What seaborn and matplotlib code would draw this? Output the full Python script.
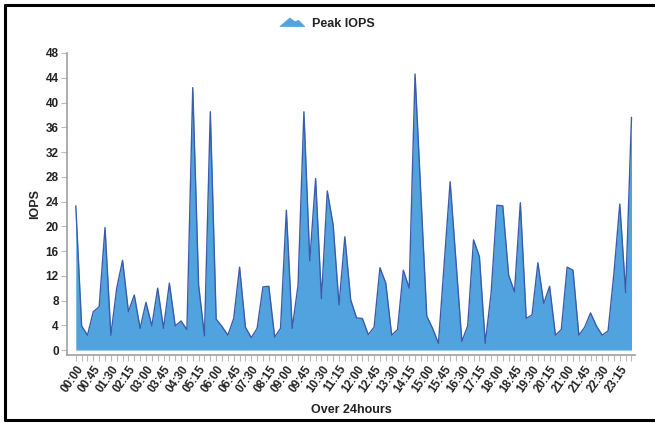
import matplotlib
matplotlib.use("Agg")
import matplotlib.pyplot as plt
import seaborn as sns
import pandas as pd
import numpy as np
from matplotlib.patches import Polygon
from matplotlib.legend_handler import HandlerPatch
from matplotlib.lines import Line2D

# ---- data ----
times = [f"{h:02d}:{m:02d}" for h in range(24) for m in (0, 15, 30, 45)]
peak_iops = [
    23.3, 3.9, 2.4, 6.2, 7.0, 19.8, 2.4, 10.0, 14.5, 6.2, 8.9, 3.5,
    7.7, 3.9, 10.0, 3.5, 10.8, 3.9, 4.7, 3.3, 42.4, 10.5, 2.3, 38.5,
    5.0, 3.8, 2.4, 5.1, 13.4, 3.7, 2.0, 3.5, 10.2, 10.3, 2.1, 3.5,
    22.6, 3.5, 10.5, 38.5, 14.4, 27.7, 8.3, 25.7, 20.2, 7.3, 18.3, 8.1,
    5.2, 5.1, 2.5, 3.7, 13.3, 10.8, 2.4, 3.3, 12.9, 10.0, 44.6, 25.0,
    5.5, 3.5, 1.1, 14.2, 27.2, 14.3, 1.4, 3.9, 17.8, 15.1, 1.1, 9.2,
    23.4, 23.3, 12.1, 9.4, 23.8, 5.1, 5.7, 14.1, 7.5, 10.3, 2.4, 3.3,
    13.4, 12.9, 2.4, 3.7, 6.0, 3.9, 2.4, 3.1, 12.4, 23.6, 9.3, 37.6,
]
y_ticks = list(range(0, 49, 4))
series_name = "Peak IOPS"

df = pd.DataFrame({"idx": np.arange(len(times)), "time": times, "iops": peak_iops})

FILL = "#50A3DE"
LINE = "#3A5CAB"
TXT = "#222222"

sns.set_style("white")
plt.rcParams["font.family"] = ["Liberation Sans", "DejaVu Sans"]

fig = plt.figure(figsize=(6.55, 4.23), dpi=100)
ax = fig.add_axes([67 / 655, 1 - 355 / 423, (635 - 67) / 655, (355 - 53) / 423])

ax.fill_between(df["idx"], 0, df["iops"], color=FILL, linewidth=0, zorder=1)
sns.lineplot(data=df, x="idx", y="iops", ax=ax, color=LINE, linewidth=1.0, zorder=2)

ax.set_xlim(-1.5, 95.6)
ax.set_ylim(-0.8, 48)

ax.set_yticks(y_ticks)
ax.set_yticklabels([str(v) for v in y_ticks], fontsize=8.5, fontweight="bold", color=TXT)
major = list(range(0, len(times), 3))
ax.set_xticks(major)
ax.set_xticklabels([times[i] for i in major], rotation=55, ha="right",
                   rotation_mode="anchor", fontsize=8.3, fontweight="bold", color=TXT)
ax.set_xticks(range(len(times)), minor=True)
ax.tick_params(axis="x", which="both", length=4, width=0.8, color="#bbbbbb",
               direction="out", pad=2, bottom=True)
ax.tick_params(axis="y", length=4, width=0.8, color="#bbbbbb", direction="out", pad=2, left=True)

for s in ["top", "right"]:
    ax.spines[s].set_visible(False)
for s in ["left", "bottom"]:
    ax.spines[s].set_color("#a0a0a0")
    ax.spines[s].set_linewidth(1.2)
ax.grid(False)

ax.set_ylabel("IOPS", fontsize=9, fontweight="bold", color=TXT, labelpad=3)
ax.set_xlabel("Over 24hours", fontsize=9, fontweight="bold", color=TXT, labelpad=7)


class MountainHandler(HandlerPatch):
    def create_artists(self, legend, orig_handle, xdescent, ydescent,
                       width, height, fontsize, trans):
        w, h = width, height
        pts = [(0, 0.05 * h), (0.4 * w, 0.95 * h), (0.6 * w, 0.55 * h),
               (0.75 * w, 0.7 * h), (w, 0.05 * h)]
        p = Polygon(pts, closed=True, facecolor=FILL, edgecolor=FILL,
                    linewidth=0.5, transform=trans)
        return [p]


handle = Polygon([[0, 0], [1, 1], [2, 0]], facecolor=FILL)
leg = fig.legend([handle], [series_name], handler_map={Polygon: MountainHandler()},
                 loc="center", bbox_to_anchor=(0.5, 1 - 24 / 423), frameon=False,
                 prop={"size": 9, "weight": "bold"}, handlelength=2.0, handleheight=0.8,
                 handletextpad=0.6)
for t in leg.get_texts():
    t.set_color(TXT)

# outer frame (top, left, bottom)
fig.add_artist(Line2D([5 / 655, 1.0], [1 - 5 / 423, 1 - 5 / 423], color="black", linewidth=2.2,
                      transform=fig.transFigure))
fig.add_artist(Line2D([5 / 655, 5 / 655], [1 - 5 / 423, 1 - 420 / 423], color="black", linewidth=2.2,
                      transform=fig.transFigure))
fig.add_artist(Line2D([5 / 655, 1.0], [1 - 420 / 423, 1 - 420 / 423], color="black", linewidth=2.2,
                      transform=fig.transFigure))

fig.savefig("out.png", dpi=100)
